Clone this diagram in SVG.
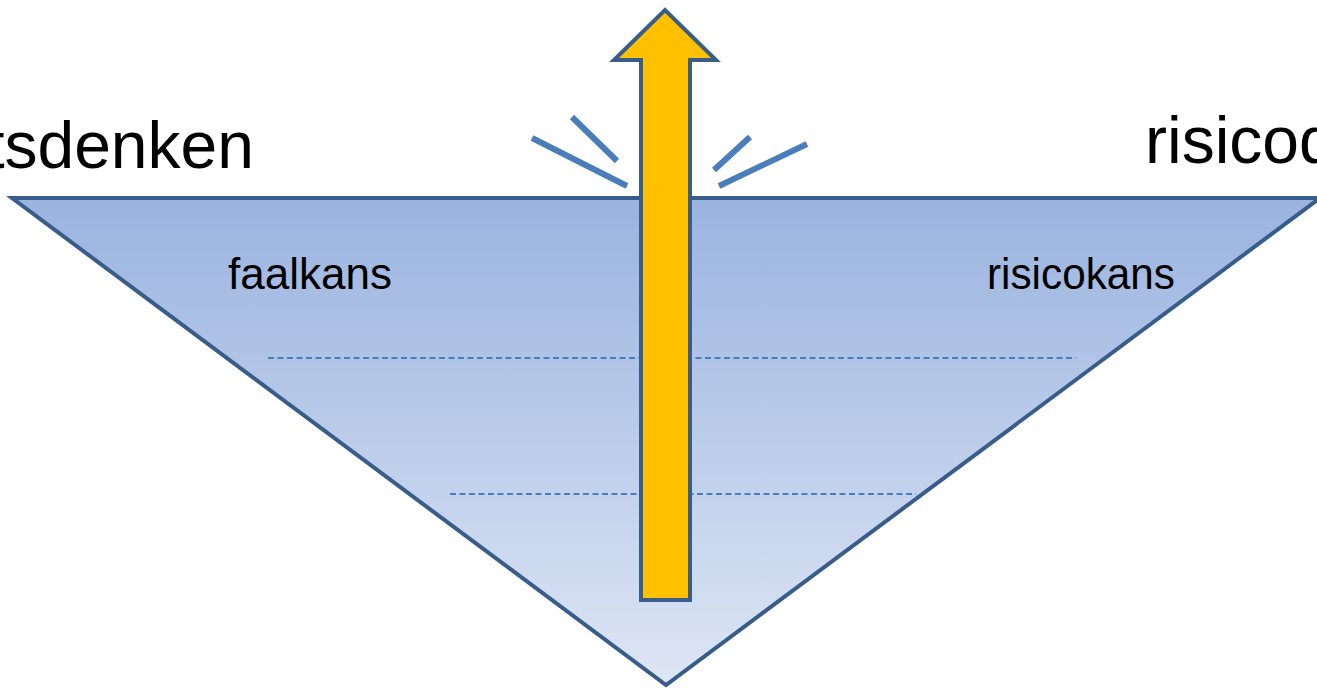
<svg xmlns="http://www.w3.org/2000/svg" width="1317" height="690" viewBox="0 0 1317 690">
<defs>
<linearGradient id="fillGrad" x1="0" y1="198" x2="0" y2="686" gradientUnits="userSpaceOnUse">
<stop offset="0" stop-color="#9ab3e0"/>
<stop offset="1" stop-color="#dee6f4"/>
</linearGradient>
</defs>
<style>
.big{font-family:"Liberation Sans",Arial,sans-serif;font-size:66px;fill:#000}
.lbl{font-family:"Liberation Sans",Arial,sans-serif;font-size:44px;fill:#000}
.dash{stroke:#4a7ebb;stroke-width:2;stroke-dasharray:6 3.5;fill:none}
.spark{stroke:#4a7ebb;stroke-width:6;fill:none}
</style>
<rect width="1317" height="690" fill="#ffffff"/>
<g id="labels-top">
<text class="big" x="254" y="168" text-anchor="end">tsdenken</text>
<text class="big" x="1145" y="163">risicod</text>
</g>
<g id="triangle">
<path d="M12,198 L1320,198 L666,685 Z" fill="url(#fillGrad)" stroke="#385d8a" stroke-width="4" stroke-linejoin="miter"/>
<line class="dash" x1="268" y1="358" x2="1076" y2="358"/>
<line class="dash" x1="450" y1="494" x2="916" y2="494"/>
<text class="lbl" x="228" y="289">faalkans</text>
<text class="lbl" x="987" y="289" textLength="188" lengthAdjust="spacingAndGlyphs">risicokans</text>
</g>
<g id="sparks">
<line class="spark" x1="532" y1="138" x2="627" y2="186"/>
<line class="spark" x1="572" y1="117" x2="617" y2="161"/>
<line class="spark" x1="750" y1="137" x2="714" y2="170"/>
<line class="spark" x1="807" y1="144" x2="719" y2="186"/>
</g>
<g id="arrow">
<path d="M641,600 L641,60 L614,60 L665,10 L716,60 L690,60 L690,600 Z" fill="#ffc000" stroke="#385d8a" stroke-width="4" stroke-linejoin="miter"/>
</g>
</svg>
